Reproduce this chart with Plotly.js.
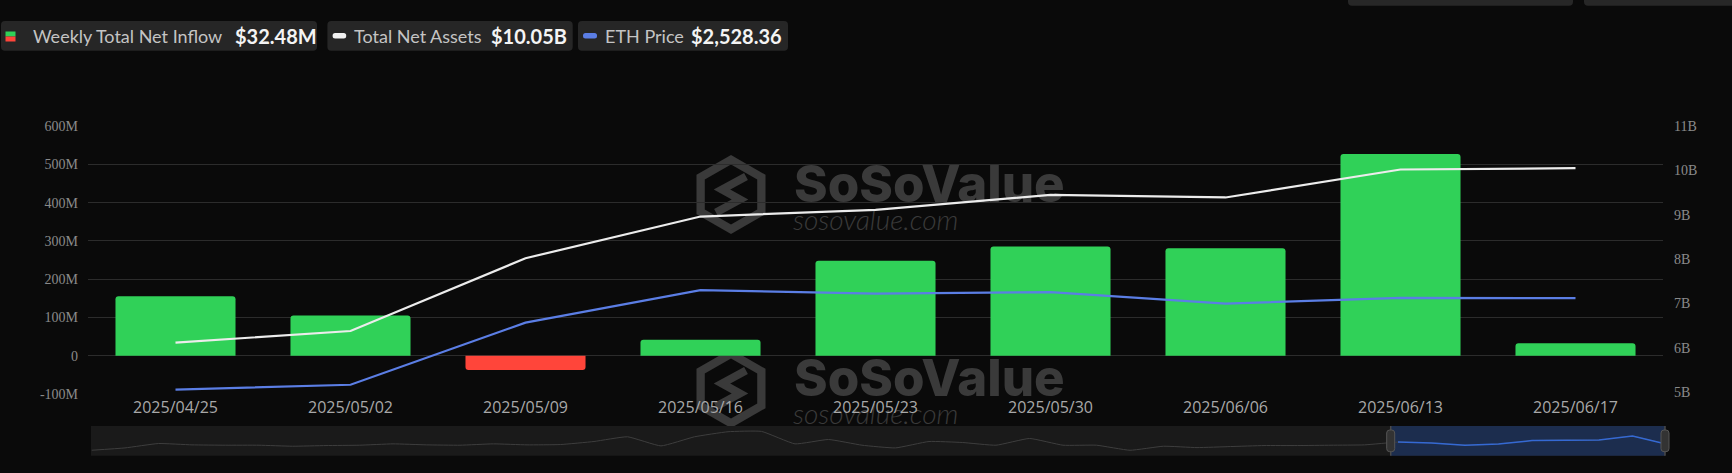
<!DOCTYPE html>
<html><head><meta charset="utf-8">
<script src="https://cdn.plot.ly/plotly-3.0.1.min.js"></script>
<style>html,body{margin:0;padding:0;background:#0a0a0a;overflow:hidden;} #chart{width:1732px;height:473px;}</style>
</head><body><div id="chart"></div>
<script>
// ---- data ----
const weeks = ['2025/04/25','2025/05/02','2025/05/09','2025/05/16','2025/05/23','2025/05/30','2025/06/06','2025/06/13','2025/06/17'];
const netInflowM = [155, 105, -37.5, 41.5, 248, 285, 280.5, 527, 32.48];
const totalNetAssetsB = [6.12, 6.38, 8.02, 8.96, 9.11, 9.45, 9.39, 10.02, 10.05];
const ethPrice = [1786, 1826, 2330, 2593, 2565, 2577, 2484, 2530, 2528.36];
// earlier weekly net inflow (M) shown in the overview slider
const earlierInflowM = [-352,-206,67,-17,-38,-38,-101,-59,-38,46,-17,-38,46,-17,4,193,486,-80,486,800,821,46,318,-38,-206,193,130,-38,381,-38,-38,-352,-101,-185,-122,-59,-59,-38,-17];
const leftTickVals = [-100,0,100,200,300,400,500,600];
const leftTickText = ['-100M','0','100M','200M','300M','400M','500M','600M'];
const rightTickVals = [5,6,7,8,9,10,11];
const rightTickText = ['5B','6B','7B','8B','9B','10B','11B'];

// ---- geometry helpers (pixel -> paper) ----
const L = 88, T = 126, W = 1578, H = 330;
const px = p => (p - L) / W;
const py = p => (T + H - p) / H;
function rr(x0, y0, x1, y1, r) {
  const P = (x, y) => px(x) + ',' + py(y);
  return 'M' + P(x0 + r, y0) + ' L' + P(x1 - r, y0) + ' Q' + P(x1, y0) + ' ' + P(x1, y0 + r) +
    ' L' + P(x1, y1 - r) + ' Q' + P(x1, y1) + ' ' + P(x1 - r, y1) + ' L' + P(x0 + r, y1) +
    ' Q' + P(x0, y1) + ' ' + P(x0, y1 - r) + ' L' + P(x0, y0 + r) + ' Q' + P(x0, y0) + ' ' + P(x0 + r, y0) + ' Z';
}
function poly(pts, close) {
  return pts.map((p, i) => (i ? 'L' : 'M') + px(p[0]) + ',' + py(p[1])).join(' ') + (close ? ' Z' : '');
}

const BG = '#0a0a0a';
const GREEN = '#30d158', RED = '#ff453a', WHITE = '#ececec', BLUE = '#5b7ee5';

const allInflow = earlierInflowM.concat(netInflowM);
const idx = allInflow.map((_, i) => i);
const selStart = earlierInflowM.length;

const traces = [
  { type: 'bar', x: weeks, y: netInflowM, xaxis: 'x', yaxis: 'y',
    marker: { color: netInflowM.map(v => v >= 0 ? GREEN : RED), cornerradius: 3, line: { width: 0 } } },
  { type: 'scatter', mode: 'lines', x: weeks, y: ethPrice, xaxis: 'x', yaxis: 'y3',
    line: { color: BLUE, width: 2.2 } },
  { type: 'scatter', mode: 'lines', x: weeks, y: totalNetAssetsB, xaxis: 'x', yaxis: 'y2',
    line: { color: WHITE, width: 2.2 } },
  { type: 'scatter', mode: 'lines', x: idx, y: allInflow, xaxis: 'x2', yaxis: 'y4',
    line: { color: '#3e3e3e', width: 1, shape: 'spline', smoothing: 0.4 } },
  { type: 'scatter', mode: 'lines', x: idx.slice(selStart), y: allInflow.slice(selStart), xaxis: 'x2', yaxis: 'y4',
    line: { color: '#3469d4', width: 1.5 } }
];

const fmt2 = v => v.toLocaleString('en-US', { minimumFractionDigits: 2, maximumFractionDigits: 2 });
const lastInflow = netInflowM[netInflowM.length - 1];
const lastAssets = totalNetAssetsB[totalNetAssetsB.length - 1];
const lastEth = ethPrice[ethPrice.length - 1];

const shapes = [];
// top-right partial buttons
shapes.push({ type: 'path', xref: 'paper', yref: 'paper', path: rr(1348, -12, 1573, 5.7, 4), fillcolor: '#272727', line: { width: 0 }, layer: 'above' });
shapes.push({ type: 'path', xref: 'paper', yref: 'paper', path: rr(1584, -12, 1750, 5.7, 4), fillcolor: '#272727', line: { width: 0 }, layer: 'above' });
// legend boxes
[[1, 317], [327.4, 572.7], [578, 788]].forEach(b => {
  shapes.push({ type: 'path', xref: 'paper', yref: 'paper', path: rr(b[0], 21, b[1], 50.7, 4), fillcolor: '#262626', line: { width: 0 }, layer: 'above' });
});
shapes.push({ type: 'rect', xref: 'paper', yref: 'paper', x0: px(5.5), x1: px(15.5), y0: py(31.5), y1: py(36.5), fillcolor: GREEN, line: { width: 0 }, layer: 'above' });
shapes.push({ type: 'rect', xref: 'paper', yref: 'paper', x0: px(5.5), x1: px(15.5), y0: py(36.5), y1: py(41.5), fillcolor: RED, line: { width: 0 }, layer: 'above' });
shapes.push({ type: 'path', xref: 'paper', yref: 'paper', path: rr(332.6, 33, 346.2, 38.5, 2.5), fillcolor: '#f2f2f2', line: { width: 0 }, layer: 'above' });
shapes.push({ type: 'path', xref: 'paper', yref: 'paper', path: rr(583, 33, 597, 38.5, 2.5), fillcolor: BLUE, line: { width: 0 }, layer: 'above' });

// watermarks
const WM = '#3a3a3a';
[0, 194].forEach(k => {
  const cx = 731, cy = 194.5 + k, hh = 39.5, hw = 34.5;
  const hex = (s) => [[cx, cy - hh * s], [cx + hw * s, cy - hh * s / 2], [cx + hw * s, cy + hh * s / 2], [cx, cy + hh * s], [cx - hw * s, cy + hh * s / 2], [cx - hw * s, cy - hh * s / 2]];
  shapes.push({ type: 'path', xref: 'paper', yref: 'paper', path: poly(hex(1), true), fillcolor: WM, line: { width: 0 }, layer: 'below' });
  shapes.push({ type: 'path', xref: 'paper', yref: 'paper', path: poly(hex(0.76), true), fillcolor: BG, line: { width: 0 }, layer: 'below' });
  shapes.push({ type: 'path', xref: 'paper', yref: 'paper', path: poly([[cx + 15, cy - 18], [cx - 9, cy - 5], [cx + 9, cy + 5], [cx - 15, cy + 18]], false), line: { color: WM, width: 8 }, layer: 'below' });
  shapes.push({ type: 'rect', xref: 'paper', yref: 'paper', x0: px(791), x1: px(1070), y0: py(159 + k), y1: py(203 + k),
    fillcolor: 'rgba(0,0,0,0)', line: { width: 0 }, layer: 'below',
    label: { text: 'SoSoValue', textposition: 'middle left', padding: 0, font: { family: 'Inter', size: 51, color: WM, weight: 800 } } });
  shapes.push({ type: 'rect', xref: 'paper', yref: 'paper', x0: px(790), x1: px(1000), y0: py(206 + k), y1: py(231 + k),
    fillcolor: 'rgba(0,0,0,0)', line: { width: 0 }, layer: 'below',
    label: { text: 'sosovalue.com', textposition: 'middle left', padding: 0, font: { family: 'Lato', size: 28, color: WM, style: 'italic', weight: 300 } } });
});

// overview slider
shapes.push({ type: 'rect', xref: 'paper', yref: 'paper', x0: px(91), x1: px(1665), y0: py(426), y1: py(455.7), fillcolor: '#1a1a1a', line: { width: 0 }, layer: 'below' });
shapes.push({ type: 'rect', xref: 'paper', yref: 'paper', x0: px(1390.7), x1: px(1665), y0: py(426), y1: py(455.7), fillcolor: '#1c2d4e', line: { width: 0 }, layer: 'below' });
[1390.7, 1665].forEach(hx => {
  shapes.push({ type: 'line', xref: 'paper', yref: 'paper', x0: px(hx), x1: px(hx), y0: py(426), y1: py(455.7), line: { color: '#4a4a4a', width: 1.5 }, layer: 'above' });
  shapes.push({ type: 'path', xref: 'paper', yref: 'paper', path: rr(hx - 4, 430, hx + 4, 451.7, 3), fillcolor: '#333333', line: { color: '#555555', width: 1 }, layer: 'above' });
});

const legendItems = [
  { lx: 31.4, vx: 232.7, label: 'Weekly Total Net Inflow', value: '$' + fmt2(lastInflow) + 'M' },
  { lx: 352, vx: 489, label: 'Total Net Assets', value: '$' + fmt2(lastAssets) + 'B' },
  { lx: 603, vx: 689.3, label: 'ETH Price', value: '$' + fmt2(lastEth) }
];
const annotations = [];
legendItems.forEach(it => {
  annotations.push({ xref: 'paper', yref: 'paper', x: px(it.lx), y: py(36), xanchor: 'left', yanchor: 'middle', showarrow: false,
    text: it.label, font: { family: 'Lato', size: 18, color: '#c4c4c4' } });
  annotations.push({ xref: 'paper', yref: 'paper', x: px(it.vx), y: py(36), xanchor: 'left', yanchor: 'middle', showarrow: false,
    text: it.value, font: { family: 'Lato', size: 20, color: '#f4f4f4', weight: 700 } });
});

const tickFontSerif = { family: 'Liberation Serif', size: 14, color: '#8a8a8a' };

const layout = {
  width: 1732, height: 473,
  margin: { l: L, r: 1732 - L - W, t: T, b: 473 - T - H, pad: 0 },
  paper_bgcolor: BG, plot_bgcolor: 'rgba(0,0,0,0)',
  showlegend: false, hovermode: false, bargap: 0.314,
  xaxis: { type: 'category', domain: [0, 1575 / W], anchor: 'y', showgrid: false, zeroline: false, showline: false, ticks: '',
    tickfont: { family: 'Open Sans', size: 16, color: '#a8a8a8' }, ticklabelstandoff: 2, fixedrange: true },
  yaxis: { domain: [(T + H - 394) / H, 1], range: [-100.3, 600.3], tickmode: 'array', tickvals: leftTickVals, ticktext: leftTickText,
    showgrid: true, gridcolor: '#2c2c2c', gridwidth: 1, zeroline: false, showline: false, ticks: '',
    tickfont: tickFontSerif, ticklabelstandoff: 9, fixedrange: true },
  yaxis2: { overlaying: 'y', side: 'right', range: [4.96, 11.001], tickmode: 'array', tickvals: rightTickVals, ticktext: rightTickText,
    showgrid: false, zeroline: false, showline: false, ticks: '', tickfont: tickFontSerif, ticklabelstandoff: 10, fixedrange: true },
  yaxis3: { overlaying: 'y', range: [1751, 3924], visible: false, fixedrange: true },
  xaxis2: { domain: [3.5 / W, 1], anchor: 'y4', range: [0, allInflow.length - 1], visible: false, fixedrange: true },
  yaxis4: { domain: [0, 30 / H], anchor: 'x2', range: [-709, 1157], visible: false, fixedrange: true },
  shapes: shapes,
  annotations: annotations
};

Plotly.newPlot('chart', traces, layout, { displayModeBar: false, staticPlot: true });
</script>
</body></html>
